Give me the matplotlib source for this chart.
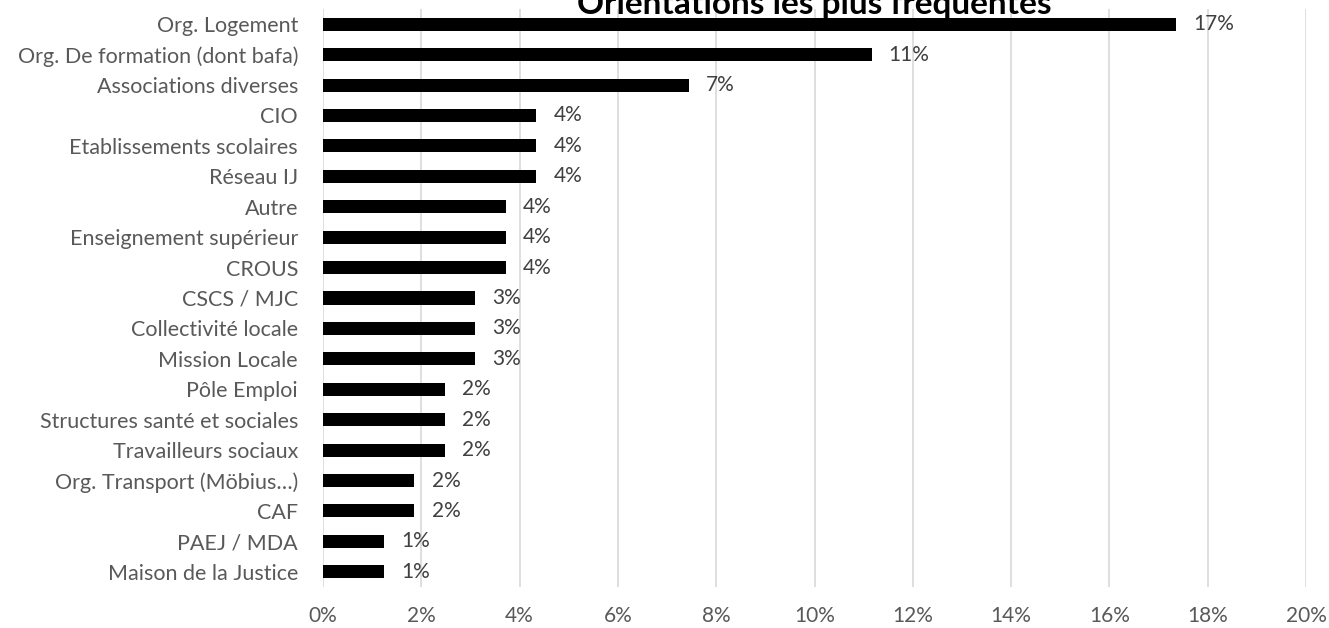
import matplotlib.pyplot as plt
from matplotlib.ticker import PercentFormatter

# categories, top to bottom as in the chart
categories = [
    "Org. Logement",
    "Org. De formation (dont bafa)",
    "Associations diverses",
    "CIO",
    "Etablissements scolaires",
    "Réseau IJ",
    "Autre",
    "Enseignement supérieur",
    "CROUS",
    "CSCS / MJC",
    "Collectivité locale",
    "Mission Locale",
    "Pôle Emploi",
    "Structures santé et sociales",
    "Travailleurs sociaux",
    "Org. Transport (Möbius…)",
    "CAF",
    "PAEJ / MDA",
    "Maison de la Justice",
]
values = [17.36, 11.16, 7.44, 4.34, 4.34, 4.34, 3.72, 3.72, 3.72,
          3.10, 3.10, 3.10, 2.48, 2.48, 2.48, 1.86, 1.86, 1.24, 1.24]
labels = ["17%", "11%", "7%", "4%", "4%", "4%", "4%", "4%", "4%",
          "3%", "3%", "3%", "2%", "2%", "2%", "2%", "2%", "1%", "1%"]
xticks = list(range(0, 21, 2))

plt.rcParams['font.family'] = ['Lato', 'DejaVu Sans']

fig = plt.figure(figsize=(13.29, 6.28), dpi=100)
ax = fig.add_axes([323/1329, 1 - 587/628, (1306-323)/1329, (587-9)/628])

ypos = list(range(len(categories)))
ax.barh(ypos, values, height=0.43, color="black", zorder=3)
for y, v, lab in zip(ypos, values, labels):
    ax.text(v + 0.35, y, lab, va="center", ha="left", fontsize=15, color="#404040")

ax.set_yticks(ypos)
ax.set_yticklabels(categories, fontsize=15.5, color="#595959")
ax.set_ylim(len(categories) - 0.5, -0.5)

ax.set_xlim(0, 20)
ax.set_xticks(xticks)
ax.xaxis.set_major_formatter(PercentFormatter(decimals=0))
ax.tick_params(axis="x", labelsize=15, labelcolor="#595959", length=0, pad=14)
ax.tick_params(axis="y", length=0, pad=18)
ax.grid(axis="x", color="#d9d9d9", linewidth=1.2, zorder=0)
for s in ax.spines.values():
    s.set_visible(False)

fig.text(814/1329, 1 - 14/628, "Orientations les plus fréquentes", ha="center",
         va="baseline", fontsize=24, fontweight="bold", color="black")

fig.savefig("out.png", dpi=100)
